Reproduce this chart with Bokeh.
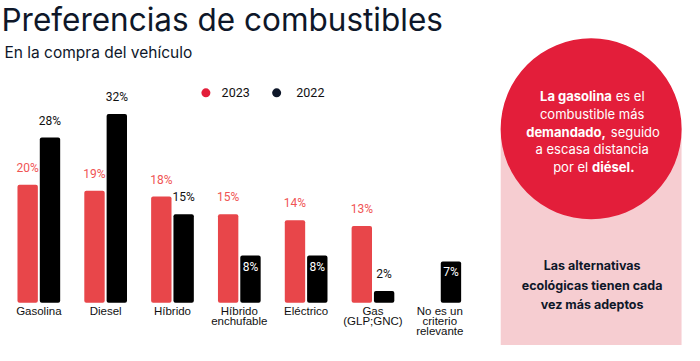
from bokeh.plotting import figure
from bokeh.models import Range1d, ColumnDataSource
from bokeh.transform import dodge
from bokeh.core.properties import value
from bokeh.embed import file_html
from bokeh.resources import INLINE

# ---- data ----
categories = ["Gasolina", "Diesel", "Híbrido", "Híbrido\nenchufable", "Eléctrico",
              "Gas\n(GLP;GNC)", "No es un\ncriterio\nrelevante"]
values_2023 = [20, 19, 18, 15, 14, 13, None]
values_2022 = [28, 32, 15, 8, 8, 2, 7]
series_names = ["2023", "2022"]

title_text = "Preferencias de combustibles"
subtitle_text = "En la compra del vehículo"

RED_BAR = "#E8464A"
RED_LABEL = "#F05454"
BLACK = "#000000"
NAVY = "#0E1729"
CIRCLE = "#E31E3A"
PINK = "#F6CDD1"

W, H = 684, 345
p = figure(width=W, height=H, output_backend="svg", toolbar_location=None,
           x_range=Range1d(4, 700), y_range=Range1d(360, 5),
           min_border=0, outline_line_color=None)
p.axis.visible = False
p.grid.visible = False
p.background_fill_color = "white"
p.border_fill_color = "white"

# value scale and category index scale (extra ranges)
PX_PER = 6.07
BASE = 316.0
p.extra_y_ranges = {"pct": Range1d((BASE - 360) / PX_PER, (BASE - 5) / PX_PER)}
STEP = 68.0
C0 = 43.0
p.extra_x_ranges = {"cat": Range1d((4 - C0) / STEP, (700 - C0) / STEP)}
CAT = p.extra_x_ranges["cat"]

idx = list(range(len(categories)))
src23 = ColumnDataSource(dict(x=[i for i, v in zip(idx, values_2023) if v is not None],
                              v=[v for v in values_2023 if v is not None],
                              lab=[f"{v}%" for v in values_2023 if v is not None]))
src22 = ColumnDataSource(dict(x=idx, v=values_2022, lab=[f"{v}%" for v in values_2022]))

BW = 0.305
OFF = 0.167
p.vbar(x=dodge("x", -OFF, range=CAT), top="v", bottom=0, width=BW,
       source=src23, fill_color=RED_BAR, line_color=None,
       x_range_name="cat", y_range_name="pct", border_radius=2)
p.vbar(x=dodge("x", OFF, range=CAT), top="v", bottom=0, width=BW,
       source=src22, fill_color=BLACK, line_color=None,
       x_range_name="cat", y_range_name="pct", border_radius=2)

# value labels
p.text(x=dodge("x", -OFF, range=CAT), y="v", text="lab", source=src23,
       x_range_name="cat", y_range_name="pct", text_align="center", text_baseline="bottom",
       y_offset=-10, text_font=value("Roboto"), text_font_size="12px", text_color=RED_LABEL)

# black labels: above the bar, except mid-short bars where they sit inside in white
out_mask = [v >= 10 or v < 5 for v in values_2022]
src22_out = ColumnDataSource(dict(
    x=[i for i, m in zip(idx, out_mask) if m],
    v=[v for v, m in zip(values_2022, out_mask) if m],
    lab=[f"{v}%" for v, m in zip(values_2022, out_mask) if m]))
src22_in = ColumnDataSource(dict(
    x=[i for i, m in zip(idx, out_mask) if not m],
    v=[v for v, m in zip(values_2022, out_mask) if not m],
    lab=[f"{v}%" for v, m in zip(values_2022, out_mask) if not m]))
p.text(x=dodge("x", OFF, range=CAT), y="v", text="lab", source=src22_out,
       x_range_name="cat", y_range_name="pct", text_align="center", text_baseline="bottom",
       y_offset=-10, text_font=value("Roboto"), text_font_size="12px", text_color="#111111")
p.text(x=dodge("x", OFF, range=CAT), y="v", text="lab", source=src22_in,
       x_range_name="cat", y_range_name="pct", text_align="center", text_baseline="top",
       y_offset=4, text_font=value("Roboto"), text_font_size="12px", text_color="white")

# category labels
p.text(x=idx, y=[0] * len(idx), text=categories, x_range_name="cat", y_range_name="pct",
       text_align="center", text_baseline="top", y_offset=2, text_line_height=0.86,
       text_font=value("Liberation Sans"), text_font_size="11.5px", text_color="#111111")

# title / subtitle
p.text(x=[5], y=[25], text=[title_text], text_align="left", text_baseline="middle",
       text_font=value("Inter"), text_font_size="31.5px", text_color=NAVY)
p.text(x=[8], y=[58], text=[subtitle_text], text_align="left", text_baseline="middle",
       text_font=value("Inter"), text_font_size="15.5px", text_color=NAVY)

# legend
p.scatter(x=[213, 285], y=[100, 100], size=9, fill_color=[CIRCLE, NAVY], line_color=None)
p.text(x=[229, 305], y=[100, 100], text=series_names, text_align="left", text_baseline="middle",
       text_font=value("Roboto"), text_font_size="12.5px", text_color="#111111")

# side panel
p.quad(left=[513], right=[697], bottom=[137], top=[365], fill_color=PINK, line_color=None)
p.scatter(x=[605], y=[137], size=181, marker="circle", fill_color=CIRCLE, line_color=None)

FONT = value("Inter")
fs = "13px"
p.text(x=[626, 620], y=[103, 140], text=["La gasolina", "demandado,"],
       text_align="right", text_baseline="middle", text_font=FONT, text_font_style="bold",
       text_font_size=fs, text_color="white")
p.text(x=[606], y=[176], text=["diésel."], text_align="left", text_baseline="middle",
       text_font=FONT, text_font_style="bold", text_font_size=fs, text_color="white")
p.text(x=[630, 625], y=[103, 140], text=["es el", "seguido"], text_align="left",
       text_baseline="middle", text_font=FONT, text_font_size=fs, text_color="white")
p.text(x=[606, 606], y=[122, 158], text=["combustible más", "a escasa distancia"],
       text_align="center", text_baseline="middle", text_font=FONT, text_font_size=fs,
       text_color="white")
p.text(x=[602], y=[176], text=["por el"], text_align="right", text_baseline="middle",
       text_font=FONT, text_font_size=fs, text_color="white")

p.text(x=[606, 606, 606], y=[278, 298, 318],
       text=["Las alternativas", "ecológicas tienen cada", "vez más adeptos"],
       text_align="center", text_baseline="middle", text_font=FONT, text_font_style="bold",
       text_font_size="12.5px", text_color=NAVY)

open("out.html", "w").write(file_html(p, INLINE))
